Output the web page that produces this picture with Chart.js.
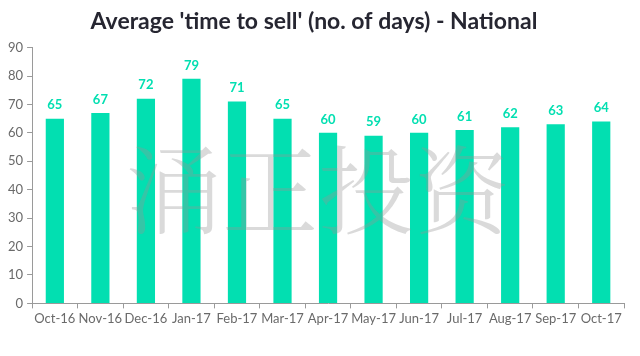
<!DOCTYPE html>
<html><head><meta charset="utf-8">
<script src="https://cdn.jsdelivr.net/npm/chart.js@4/dist/chart.umd.min.js"></script>
<style>html,body{margin:0;padding:0;background:#fff}#wrap{width:640px;height:356px}</style>
</head><body><div id="wrap"><canvas id="c" width="640" height="356"></canvas></div>
<script>
const categories = ['Oct-16','Nov-16','Dec-16','Jan-17','Feb-17','Mar-17','Apr-17','May-17','Jun-17','Jul-17','Aug-17','Sep-17','Oct-17'];
const daysToSell = [65,67,72,79,71,65,60,59,60,61,62,63,64];
const yTicks = [0,10,20,30,40,50,60,70,80,90];
const titleText = "Average 'time to sell' (no. of days) - National";
const watermark = '涌正投资';
const BAR = '#02DFB1';

const labelPlugin = {
  id:'labels',
  afterDatasetsDraw(chart){
    const ctx = chart.ctx;
    const meta = chart.getDatasetMeta(0);
    ctx.save();
    ctx.fillStyle = BAR;
    ctx.font = 'bold 13px Lato, "Open Sans", sans-serif';
    ctx.textAlign = 'center';
    ctx.textBaseline = 'bottom';
    meta.data.forEach((b,i)=>{ ctx.fillText(String(daysToSell[i]), b.x, b.y - 7); });
    // watermark
    const a = chart.chartArea;
    ctx.fillStyle = 'rgba(150,150,150,0.35)';
    ctx.font = '300 96px "Noto Serif CJK SC", "Noto Sans CJK SC", serif';
    ctx.textAlign = 'center';
    ctx.textBaseline = 'middle';
    ctx.fillText(watermark, 318, 190);
    ctx.restore();
  }
};

new Chart(document.getElementById('c'), {
  type:'bar',
  data:{labels:categories, datasets:[{data:daysToSell, backgroundColor:BAR, barPercentage:0.5, categoryPercentage:0.8}]},
  options:{
    responsive:false, animation:false,
    layout:{padding:{left:4,right:16,top:0,bottom:26}},
    plugins:{
      legend:{display:false}, tooltip:{enabled:false},
      title:{display:true, text:titleText, color:'#262631', font:{family:'Lato, "Open Sans", sans-serif', size:23, weight:'bold'}, padding:{top:8,bottom:12}}
    },
    scales:{
      y:{min:0,max:90, afterBuildTicks(ax){ax.ticks = yTicks.map(v=>({value:v}));},
        border:{color:'#9a9a9a', width:1},
        grid:{drawOnChartArea:false, drawTicks:true, tickLength:5, color:'#9a9a9a'},
        ticks:{color:'#6a6a6a', font:{family:'Lato, sans-serif', size:13}, padding:4}},
      x:{border:{color:'#9a9a9a', width:1},
        grid:{drawOnChartArea:false, drawTicks:true, tickLength:5, color:'#9a9a9a'},
        ticks:{color:'#6a6a6a', font:{family:'Lato, sans-serif', size:13}, padding:3, maxRotation:0, autoSkip:false}}
    }
  },
  plugins:[labelPlugin]
});
</script></body></html>
